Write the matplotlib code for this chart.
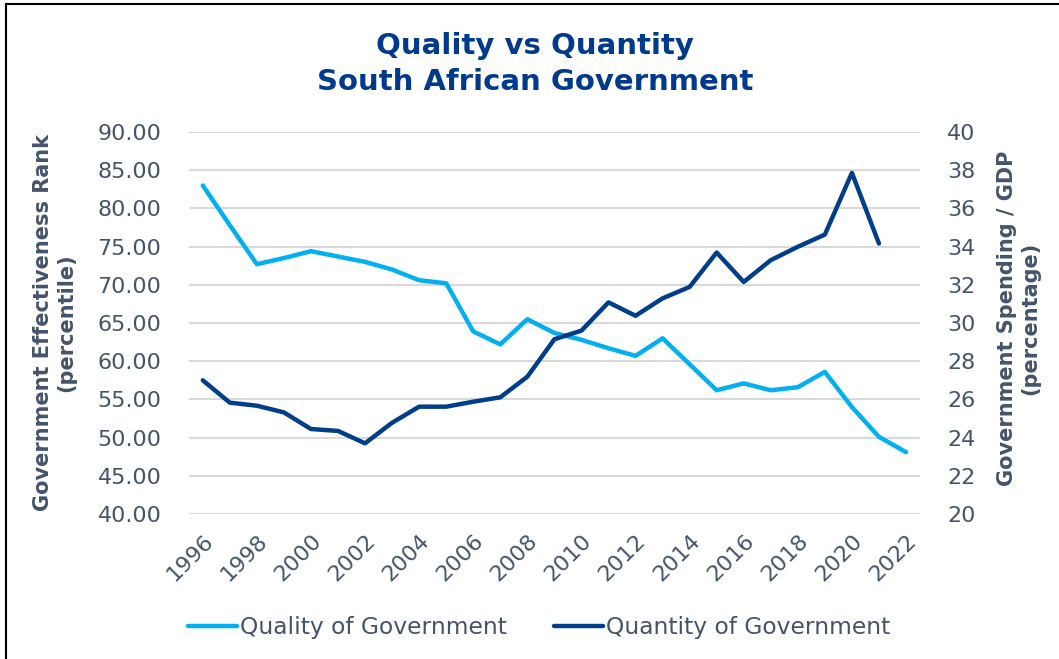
import matplotlib
matplotlib.use('Agg')
import matplotlib.pyplot as plt
from matplotlib.lines import Line2D
from matplotlib.ticker import FormatStrFormatter

years = list(range(1996, 2023))
quality = [83.0, 77.8, 72.7, 73.5, 74.4, 73.7, 73.0, 72.0, 70.6, 70.2,
           63.9, 62.2, 65.5, 63.7, 62.8, 61.7, 60.7, 63.0, 59.6, 56.2,
           57.1, 56.2, 56.6, 58.6, 54.0, 50.1, 48.1]
quantity_years = list(range(1996, 2022))
quantity = [27.0, 25.83, 25.67, 25.32, 24.45, 24.35, 23.70, 24.78, 25.62, 25.62,
            25.88, 26.11, 27.19, 29.15, 29.6, 31.08, 30.38, 31.29, 31.89, 33.69,
            32.15, 33.29, 33.99, 34.63, 37.86, 34.16]

light = '#00B0F0'
dark = '#003D8A'
navy = '#003A8C'
slate = '#44546A'

fig = plt.figure(figsize=(10.59, 6.59), dpi=100)
ax = fig.add_axes([0.1787, 0.22, 0.6896, 0.5797])
ax2 = ax.twinx()

l1, = ax.plot(years, quality, color=light, lw=3.2, solid_capstyle='round',
              label='Quality of Government')
l2, = ax2.plot(quantity_years, quantity, color=dark, lw=3.2, solid_capstyle='round',
               label='Quantity of Government')

ax.set_xlim(1995.5, 2022.5)
ax.set_ylim(40, 90)
ax2.set_ylim(20, 40)
ax.set_yticks(range(40, 91, 5))
ax2.set_yticks(range(20, 41, 2))
ax.yaxis.set_major_formatter(FormatStrFormatter('%.2f'))
ax.set_xticks(range(1996, 2023, 2))

ax.grid(axis='y', color='#D9D9D9', lw=1.5)
ax.set_axisbelow(True)
for a in (ax, ax2):
    for s in a.spines.values():
        s.set_visible(False)
    a.tick_params(length=0, labelsize=16, labelcolor=slate)
ax.tick_params(axis='y', pad=20)
ax2.tick_params(axis='y', pad=20)
ax.tick_params(axis='x', pad=12)
for lab in ax.get_xticklabels():
    lab.set_rotation(45)
    lab.set_ha('right')
    lab.set_rotation_mode('anchor')

fig.text(0.052, 0.51, 'Government Effectiveness Rank\n(percentile)', rotation=90,
         ha='center', va='center', fontsize=15, fontweight='bold', color=slate,
         linespacing=1.2)
fig.text(0.962, 0.517, 'Government Spending / GDP\n(percentage)', rotation=90,
         ha='center', va='center', fontsize=15, fontweight='bold', color=slate,
         linespacing=1.2)

fig.text(0.505, 0.903, 'Quality vs Quantity\nSouth African Government', ha='center',
         va='center', fontsize=21, fontweight='bold', color=navy, linespacing=1.4)

fig.legend(handles=[l1, l2], loc='center', bbox_to_anchor=(0.509, 0.048), ncol=2,
           frameon=False, fontsize=16.8, labelcolor=slate, handlelength=2.1,
           handletextpad=0.15, columnspacing=2.0)

# frame: only top and left edges are visible
fig.add_artist(Line2D([0.006, 1.0], [0.994, 0.994], transform=fig.transFigure,
                      color='black', lw=1.5))
fig.add_artist(Line2D([0.006, 0.006], [0.0, 0.994], transform=fig.transFigure,
                      color='black', lw=1.5))

fig.savefig('out.png', dpi=100)
